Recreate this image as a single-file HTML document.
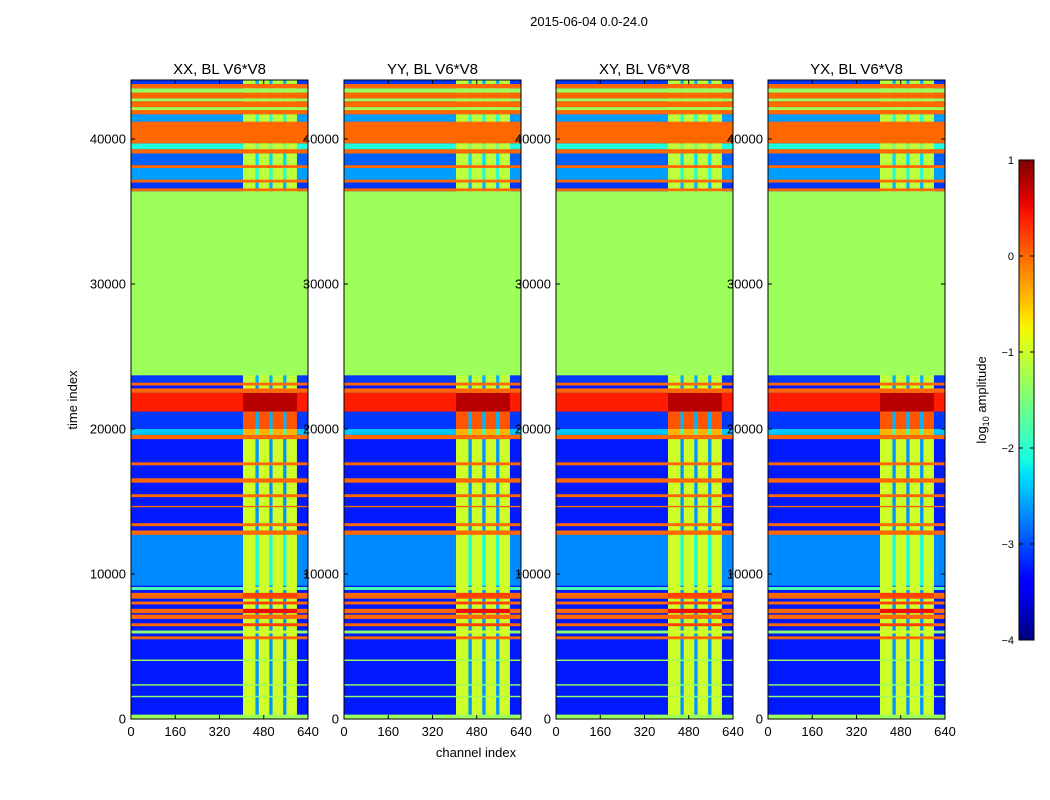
<!DOCTYPE html>
<html><head><meta charset="utf-8"><style>
html,body{margin:0;padding:0;background:#fff;}
svg{display:block;font-family:"Liberation Sans",sans-serif;}
</style></head><body>
<svg id="fig" width="1050" height="800" viewBox="0 0 1050 800" xmlns="http://www.w3.org/2000/svg">
<rect width="1050" height="800" fill="#fff"/>
<text x="589" y="26" font-size="13" text-anchor="middle">2015-06-04 0.0-24.0</text>
<text transform="translate(77,400) rotate(-90)" font-size="13" text-anchor="middle">time index</text>
<text x="476" y="757" font-size="13" text-anchor="middle">channel index</text>
<g id="panels"></g>
<defs><linearGradient id="jetgrad" x1="0" y1="1" x2="0" y2="0"></linearGradient></defs>
<g id="cbar"></g>
<text transform="translate(986,400) rotate(-90)" font-size="13" text-anchor="middle">log<tspan font-size="9" dy="3">10</tspan><tspan dy="-3"> amplitude</tspan></text>
</svg>
<script>
// ---- data ----
const panelTitles = ["XX, BL V6*V8","YY, BL V6*V8","XY, BL V6*V8","YX, BL V6*V8"];
const xTicks = [0,160,320,480,640];
const yTicks = [0,10000,20000,30000,40000];
const cbarTicks = [1,0,-1,-2,-3,-4];
// channel segments: start, end, kind (0=background, 1=rfi, 2=gap)
const chanStart = [0,405,450,462,500,512,550,562,600];
const chanEnd   = [405,450,462,500,512,550,562,600,640];
const chanKind  = [0,1,2,1,2,1,2,1,0];
// time bands: start, end, background value, rfi value (log10 amplitude)
const bandStart = [0,0,1500,2300,4000,5500,5900,6400,6900,7300,7900,8300,8900,9200,12700,13300,14600,15300,16300,17500,19300,19600,20000,21200,22500,23000,23200,23700,36400,36600,37000,37200,38000,38200,39000,39300,39700,41200,41700,42000,42200,42600,42800,43200,43500,43800];
const bandEnd   = [44100,300,1600,2400,4100,5700,6100,6600,7200,7600,8100,8700,9100,12700,13000,13500,14700,15500,16600,17700,19600,20000,21200,22500,22800,23200,23700,36400,36600,37000,37200,38000,38200,39000,39300,39700,41200,41700,42000,42200,42600,42800,43200,43500,43800,44100];
const bandBg    = [-3.25,-1.3,-1.4,-1.4,-1.3,0.0,-1.4,0.0,0.0,0.0,0.0,0.0,-1.8,-2.7,0.0,0.0,0.0,0.0,0.0,0.0,0.0,-2.4,-3.1,0.4,0.0,0.0,-3.1,-1.3,0.0,-3.1,0.0,-2.6,0.0,-2.9,0.0,-2.1,0.0,-2.6,0.0,-1.3,0.0,-1.3,0.0,-1.3,0.0,-3.1];
const bandRfi   = [-1.0,-1.3,-1.3,-1.3,-1.3,0.0,-1.0,0.2,0.0,0.5,0.2,0.2,-1.0,-1.0,0.0,0.0,0.0,0.0,0.0,0.0,0.0,-0.4,0.1,0.75,0.0,0.0,-1.1,-1.3,0.0,-1.1,0.0,-1.1,0.0,-1.1,0.0,-1.1,0.0,-1.1,0.0,-1.3,0.0,-1.3,0.0,-1.3,0.0,-1.1];
// ---- layout ----
const panelX = [131,344,556,768], PW=177, PT=80, PB=719;
const yScale = v => PB - v*(580/40000);
const vmin=-4, vmax=1;
const JR=[[0,0],[0.35,0],[0.66,1],[0.89,1],[1,0.5]];
const JG=[[0,0],[0.125,0],[0.375,1],[0.64,1],[0.91,0],[1,0]];
const JB=[[0,0.5],[0.11,1],[0.34,1],[0.65,0],[1,0]];
function seg(pts,t){for(let i=1;i<pts.length;i++){if(t<=pts[i][0]){const a=pts[i-1],b=pts[i];return a[1]+(b[1]-a[1])*(t-a[0])/(b[0]-a[0]);}}return pts[pts.length-1][1];}
function jet(v){
  let t=(v-vmin)/(vmax-vmin); t=Math.max(0,Math.min(1,t));
  return `rgb(${Math.round(seg(JR,t)*255)},${Math.round(seg(JG,t)*255)},${Math.round(seg(JB,t)*255)})`;
}
const NS="http://www.w3.org/2000/svg";
function mk(tag,attrs,parent){const e=document.createElementNS(NS,tag);for(const k in attrs)e.setAttribute(k,attrs[k]);parent.appendChild(e);return e;}
const root=document.getElementById('panels');
panelTitles.forEach((title,p)=>{
  const x0=panelX[p];
  const xScale=c=>x0+c*PW/640;
  const g=mk('g',{},root);
  
  
  const clip=mk('clipPath',{id:'clip'+p},g);
  mk('rect',{x:x0,y:PT,width:PW,height:PB-PT},clip);
  const cells=mk('g',{'clip-path':`url(#clip${p})`},g);
  for(let b=0;b<bandStart.length;b++){
    const yTop=yScale(bandEnd[b]), yBot=yScale(bandStart[b]);
    for(let c=0;c<chanStart.length;c++){
      let v = chanKind[c]===0 ? bandBg[b] : bandRfi[b];
      if(chanKind[c]===2) v = Math.min(bandRfi[b], bandBg[b]+0.6);
      const r=mk('rect',{x:xScale(chanStart[c]),y:yTop,width:xScale(chanEnd[c])-xScale(chanStart[c])+0.3,height:Math.max(0.6,yBot-yTop),fill:jet(v)},cells);
      
      
    }
  }
  mk('rect',{x:x0,y:PT,width:PW,height:PB-PT,fill:'none',stroke:'#000','stroke-width':1},g);
  const t=mk('text',{x:x0+PW/2,y:74,'font-size':15,'text-anchor':'middle'},g);
  t.textContent=title;
  
  
  xTicks.forEach(v=>{
    const x=xScale(v);
    mk('line',{x1:x,x2:x,y1:PB,y2:PB-4,stroke:'#000'},g);
    mk('line',{x1:x,x2:x,y1:PT,y2:PT+4,stroke:'#000'},g);
    const l=mk('text',{x:x,y:736,'font-size':13,'text-anchor':'middle'},g);
    l.textContent=v;
    
    
  });
  yTicks.forEach(v=>{
    const y=yScale(v);
    mk('line',{x1:x0,x2:x0+4,y1:y,y2:y,stroke:'#000'},g);
    mk('line',{x1:x0+PW,x2:x0+PW-4,y1:y,y2:y,stroke:'#000'},g);
    const l=mk('text',{x:x0-5,y:y+4.5,'font-size':13,'text-anchor':'end'},g);
    l.textContent=v;
    
    
  });
});
// colorbar
const grad=document.getElementById('jetgrad');
for(let i=0;i<=40;i++){mk('stop',{offset:(i/40),'stop-color':jet(vmin+(vmax-vmin)*i/40)},grad);}
const cb=document.getElementById('cbar');
const cbY=v=>640-(v-vmin)*96;
mk('rect',{x:1019,y:160,width:15,height:480,fill:'url(#jetgrad)',stroke:'#000'},cb);
cbarTicks.forEach(v=>{
  const y=cbY(v);
  mk('line',{x1:1019,x2:1023,y1:y,y2:y,stroke:'#000'},cb);
  mk('line',{x1:1034,x2:1030,y1:y,y2:y,stroke:'#000'},cb);
  const l=mk('text',{x:1014,y:y+4,'font-size':11,'text-anchor':'end'},cb);
  l.textContent=(v<0?'\u2212'+(-v):String(v));
  
  
});
</script>
</body></html>
